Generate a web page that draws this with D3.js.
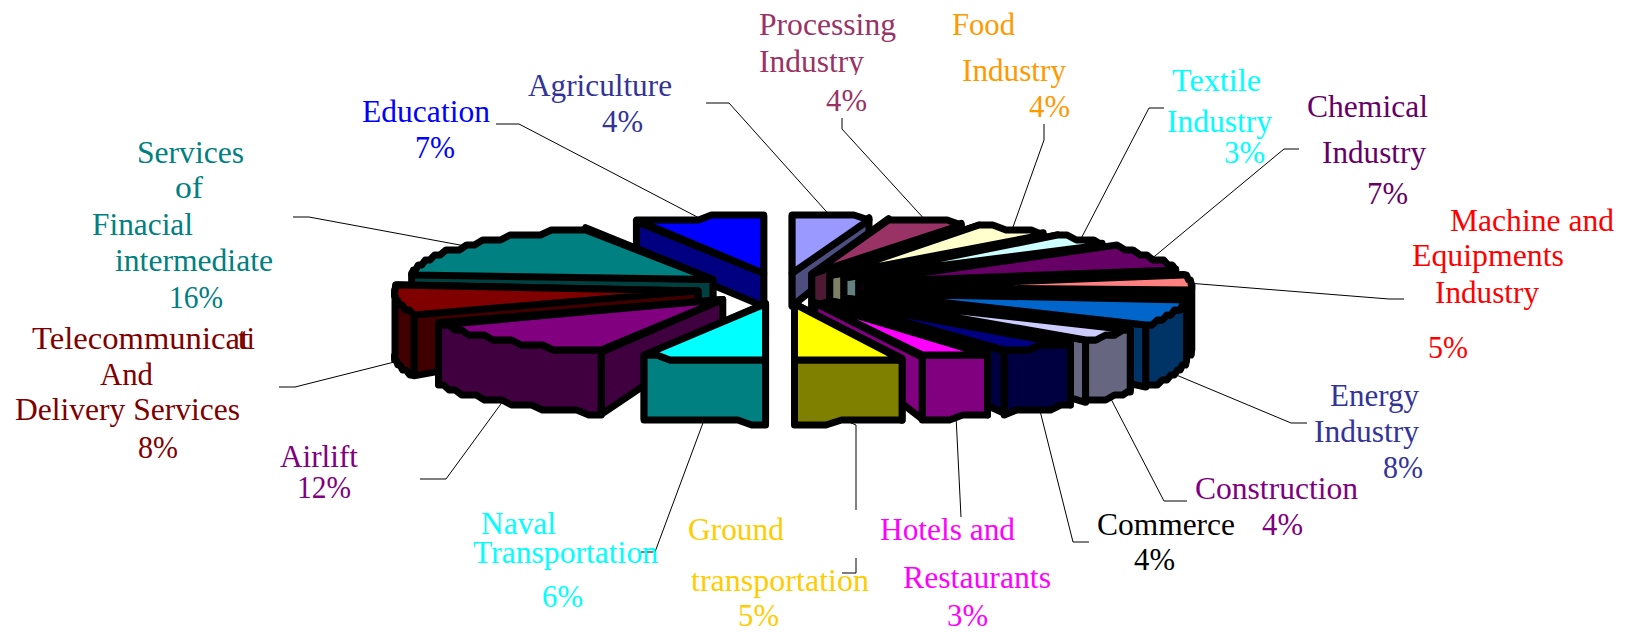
<!DOCTYPE html>
<html><head><meta charset="utf-8">
<script src="https://cdn.jsdelivr.net/npm/d3@7/dist/d3.min.js"></script>
<style>html,body{margin:0;padding:0;background:#fff}svg{display:block}</style>
</head><body><svg id="c" width="1627" height="633"></svg>
<script>
// ---- data (clockwise from the 12 o'clock cut)
const categories = ["Agriculture","Processing Industry","Food Industry","Textile Industry","Chemical Industry","Machine and Equipments Industry","Energy Industry","Construction","Commerce","Hotels and Restaurants","Ground transportation","Naval Transportation","Airlift","Telecommunications And Delivery Services","Services of Finacial intermediate","Education"];
const shares = [3.8,3.8,3.8,3.2,6.8,4.9,8.0,3.8,4.0,3.2,4.7,6.2,12.2,8.3,16.4,6.9];
const sliceColors = ["#9999FF","#993366","#FFFFCC","#CCFFFF","#660066","#FF8080","#0066CC","#CCCCFF","#000080","#FF00FF","#FFFF00","#00FFFF","#800080","#800000","#008080","#0000FF"];
const labelColors = ["#333399","#993366","#FF9900","#00FFFF","#660066","#FF0000","#333399","#800080","#000000","#FF00FF","#FFCC00","#00FFFF","#800080","#800000","#008080","#0000FF"];
const labelLines = [
 ["Agriculture"],["Processing","Industry"],["Food","Industry"],["Textile","Industry"],["Chemical","Industry"],
 ["Machine and","Equipments","Industry"],["Energy","Industry"],["Construction"],["Commerce"],["Hotels and","Restaurants"],
 ["Ground","transportation"],["Naval","Transportation"],["Airlift"],["Telecommunicat","ti","And","Delivery Services"],
 ["Services","of","Finacial","intermediate"],["Education"]];

// ---- layout: [left, baseline, width] for every text line, the percent line last
const labelBoxes = [
 [[528,96,144],[602,132,41]],
 [[759,35,137],[759,72,105],[826,111,41]],
 [[952,35,63],[962,81,104],[1029,117,41]],
 [[1172,91,89],[1167,132,105],[1224,163,41]],
 [[1307,117,121],[1322,163,104],[1367,204,41]],
 [[1450,231,164],[1412,266,152],[1435,303,104],[1428,358,40]],
 [[1330,406,89],[1314,442,105],[1383,478,40]],
 [[1195,499,163],[1262,535,41]],
 [[1097,535,138],[1134,570,41]],
 [[880,540,135],[903,588,148],[947,626,41]],
 [[688,540,96],[691,591,178],[738,626,41]],
 [[481,534,75],[473,563,185],[542,607,41]],
 [[280,467,78],[297,498,54]],
 [[32,349,217],[238,349,17],[100,385,53],[15,420,225],[138,458,40]],
 [[137,163,107],[175,198,28],[92,235,101],[115,271,158],[169,308,54]],
 [[362,122,128],[415,158,40]]];
// leader elbows; each chain ends on the slice rim unless it is a detached piece
const leaderElbows = [
 [[706,103],[729,103]],[[842,118],[842,129]],[[1044,124],[1044,140]],[[1164,108],[1149,108]],
 [[1299,149],[1284,149]],[[1404,299],[1389,299]],[[1307,423],[1291,423]],[[1187,501],[1164,501]],
 [[1089,542],[1073,542]],[[961,517]],[[856,510],[856,425]],[[641,552],[655,552]],
 [[420,479],[446,479]],[[279,387],[295,387]],[[293,217],[309,217]],[[496,124],[519,124]]];
const detachedLeaders = [[[842,573],[856,573],[856,558]]];

// ---- projection of the exploded 3D pie
const W = 1627, H = 633;
const cx = 782, cy = 288.5, explodeX = 85, explodeY = 15.5;
const rxRight = 325, rxLeft = 303, ry = 57;
const hApex = 33, hOuter = 62;
const stepDeg = 2.5, snapY = 5;
const svg = d3.select("#c");
const fmt = d3.format(".0%");
const total = d3.sum(shares);
const arcs = d3.pie().sort(null).value(d => d)(shares);

function rim(a, ap){
  const s = Math.sin(a), c = Math.cos(a), front = Math.max(0,-c);
  const f = s >= 0 ? rxRight*(1+0.15*front*front) : rxLeft*(1+0.06*front);
  return [ap[0]+s*f, ap[1]-c*ry];
}
const outerH = a => { const c = Math.max(0,Math.cos(a)); return hOuter-37*c*c; };
const snap = v => Math.round(v/snapY)*snapY;
function samples(a0,a1){
  const n = Math.max(1,Math.round((a1-a0)/(stepDeg*Math.PI/180))), out=[];
  for(let i=0;i<=n;i++) out.push(a0+(a1-a0)*i/n);
  return out;
}
const line = d3.line();

const slices = arcs.map((d,i)=>{
  const m=(d.startAngle+d.endAngle)/2;
  return {i,a0:d.startAngle,a1:d.endAngle,m,ap:[cx+explodeX*Math.sin(m),cy-explodeY*Math.cos(m)],col:d3.rgb(sliceColors[i])};
});
const dark = c => d3.rgb(c.r*0.5,c.g*0.5,c.b*0.5).formatHex();

// ---- leaders beneath the pie
const gL = svg.append("g").attr("fill","none").attr("stroke","#000").attr("stroke-width",1);
slices.forEach(s=>{
  const p = rim(s.m,s.ap);
  const end = Math.cos(s.m)<0 ? [p[0],p[1]+outerH(s.m)] : p;
  gL.append("path").attr("d",line([...leaderElbows[s.i],end]));
});
detachedLeaders.forEach(l=>gL.append("path").attr("d",line(l)));

// ---- slices, far to near
const gP = svg.append("g").attr("stroke","#000").attr("stroke-width",7).attr("stroke-linejoin","round").attr("stroke-linecap","round");
const face = (pts,fill)=>gP.append("path").attr("d",line(pts)+"Z").attr("fill",fill);
function cutWall(s,a){
  const p = rim(a,s.ap), h = outerH(a);
  return [s.ap,p,[p[0],p[1]+h],[s.ap[0],s.ap[1]+hApex]];
}
slices.slice().sort((a,b)=>Math.cos(b.m)-Math.cos(a.m)).forEach(s=>{
  const wall = dark(s.col);
  const wA = cutWall(s,s.a0), wB = cutWall(s,s.a1);
  const ordered = d3.mean(wA,p=>p[1])<d3.mean(wB,p=>p[1]) ? [wA,wB] : [wB,wA];
  ordered.forEach(w=>face(w,wall));
  const lo = Math.max(s.a0,Math.PI/2), hi = Math.min(s.a1,Math.PI*1.5);
  if(hi>lo){
    const t = samples(lo,hi);
    const top = t.map(a=>{const p=rim(a,s.ap);return [p[0],snap(p[1])];});
    const bot = t.map(a=>{const p=rim(a,s.ap);return [p[0],snap(p[1]+outerH(a))];}).reverse();
    face([...top,...bot],wall);
  }
  const topRim = samples(s.a0,s.a1).map(a=>{const p=rim(a,s.ap);return [p[0],snap(p[1])];});
  face([s.ap,...topRim],s.col.formatHex());
});

// ---- labels
svg.append("defs").append("clipPath").attr("id","cutDesc").append("rect").attr("x",700).attr("y",40).attr("width",240).attr("height",35);
const gT = svg.append("g").attr("font-family","'Liberation Serif','Times New Roman',serif").attr("font-size",32);
labelLines.forEach((lines,i)=>{
  const all=[...lines,fmt(shares[i]/total)];
  all.forEach((txt,k)=>{
    const b=labelBoxes[i][k];
    const t=gT.append("text").attr("x",b[0]).attr("y",b[1]).attr("fill",labelColors[i])
      .attr("textLength",b[2]).attr("lengthAdjust","spacingAndGlyphs").text(txt);
    if(i===1&&k===1) t.attr("clip-path","url(#cutDesc)");
  });
});
</script></body></html>
